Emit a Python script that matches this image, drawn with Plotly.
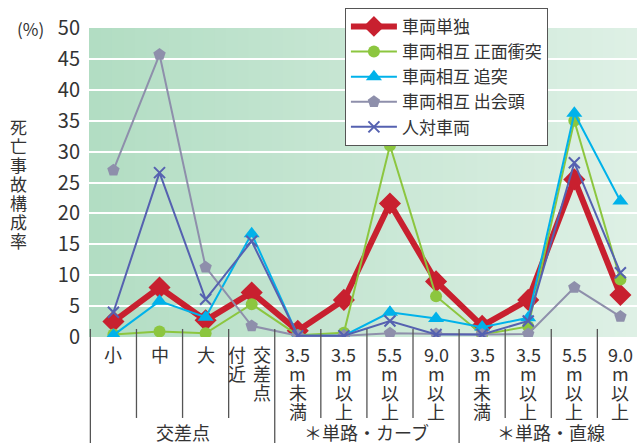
import plotly.graph_objects as go

categories = ["小", "中", "大", "交差点付近", "3.5m未満(曲)", "3.5m以上(曲)", "5.5m以上(曲)", "9.0m以上(曲)",
              "3.5m未満(直)", "3.5m以上(直)", "5.5m以上(直)", "9.0m以上(直)"]
tick_lines = [["小"], ["中"], ["大"], None,
              ["3.5", "m", "未", "満"], ["3.5", "m", "以", "上"], ["5.5", "m", "以", "上"], ["9.0", "m", "以", "上"],
              ["3.5", "m", "未", "満"], ["3.5", "m", "以", "上"], ["5.5", "m", "以", "上"], ["9.0", "m", "以", "上"]]
groups = [("交差点", 0, 3), ("＊単路・カーブ", 4, 7), ("＊単路・直線", 8, 11)]
y_title = "死亡事故構成率"

single = [2.5, 8.0, 2.7, 7.2, 1.0, 6.0, 21.6, 9.0, 1.8, 6.0, 25.5, 6.8]
head_on = [0.4, 0.9, 0.6, 5.3, 0.3, 0.7, 31.0, 6.6, 0.4, 1.7, 35.0, 9.3]
rear_end = [0.3, 5.8, 3.2, 16.7, 0.2, 0.2, 4.0, 3.0, 1.6, 3.1, 36.2, 22.0]
crossing = [27.0, 45.7, 11.3, 1.8, 0.2, 0.2, 0.6, 0.5, 0.4, 0.5, 8.0, 3.3]
pedestrian = [4.0, 26.6, 6.1, 15.5, 0.2, 0.2, 2.6, 0.4, 0.4, 2.6, 28.2, 10.4]

xs = list(range(len(categories)))
FONT = "Noto Sans CJK JP"
TXT = "#333333"

fig = go.Figure()
fig.add_trace(go.Scatter(x=xs, y=single, name="車両単独", mode="lines+markers",
                         line=dict(color="#c8202f", width=6),
                         marker=dict(symbol="diamond", size=17, color="#c8202f")))
fig.add_trace(go.Scatter(x=xs, y=head_on, name="車両相互 正面衝突", mode="lines+markers",
                         line=dict(color="#8cc63f", width=2),
                         marker=dict(symbol="circle", size=12, color="#8cc63f")))
fig.add_trace(go.Scatter(x=xs, y=rear_end, name="車両相互 追突", mode="lines+markers",
                         line=dict(color="#00b2ea", width=2),
                         marker=dict(symbol="triangle-up", size=14, color="#00b2ea")))
fig.add_trace(go.Scatter(x=xs, y=crossing, name="車両相互 出会頭", mode="lines+markers",
                         line=dict(color="#8e8fab", width=2),
                         marker=dict(symbol="pentagon", size=13, color="#8e8fab")))
fig.add_trace(go.Scatter(x=xs, y=pedestrian, name="人対車両", mode="lines+markers",
                         line=dict(color="#5561b0", width=2),
                         marker=dict(symbol="x-thin", size=11, color="#5561b0",
                                     line=dict(color="#5561b0", width=2))))

shapes = []
# gradient background
n = 48
c0 = (178, 221, 195)
c1 = (222, 240, 229)
for i in range(n):
    t = i / (n - 1)
    col = "rgb(%d,%d,%d)" % tuple(round(c0[k] + (c1[k] - c0[k]) * t) for k in range(3))
    shapes.append(dict(type="rect", xref="x domain", yref="y domain", x0=i / n, x1=(i + 1) / n + 0.002,
                       y0=0, y1=1, fillcolor=col, line=dict(width=0), layer="below"))
# category dividers
long_div = {-0.5, 3.5, 7.5}
for k in range(len(categories)):
    xd = k - 0.5
    shapes.append(dict(type="line", xref="x", yref="paper", x0=xd, x1=xd,
                       y0=0.026, y1=(-0.345 if xd in long_div else -0.262),
                       line=dict(color="#555555", width=1.3)))

annotations = []
line_h = 19
for k, lines in enumerate(tick_lines):
    if lines is None:
        cols = [(["交", "差", "点"], 10), (["付", "近"], -15)]
    else:
        cols = [(lines, 0)]
    for col_lines, xs_off in cols:
        for j, s in enumerate(col_lines):
            annotations.append(dict(x=k, y=0, xref="x", yref="paper", text=s, showarrow=False,
                                    xanchor="center", yanchor="middle", xshift=xs_off,
                                    yshift=-17 - j * line_h,
                                    font=dict(family=FONT, size=18, color=TXT)))
for name, a, b in groups:
    annotations.append(dict(x=(a + b) / 2, y=0, xref="x", yref="paper", text=name, showarrow=False,
                            xanchor="center", yanchor="middle", yshift=-95,
                            font=dict(family=FONT, size=18, color=TXT)))
annotations.append(dict(x=0, y=1, xref="paper", yref="paper", text="(%)", showarrow=False,
                        xanchor="center", yanchor="middle", xshift=-59, yshift=0,
                        font=dict(family=FONT, size=17, color=TXT)))
for j, ch in enumerate(y_title):
    annotations.append(dict(x=0, y=0, xref="paper", yref="paper", text=ch, showarrow=False,
                            xanchor="center", yanchor="middle", xshift=-71,
                            yshift=211 - j * 19,
                            font=dict(family=FONT, size=17, color=TXT)))

fig.update_layout(
    width=637, height=443,
    margin=dict(l=89, r=0, t=28, b=106),
    paper_bgcolor="white", plot_bgcolor="rgb(200,230,210)",
    font=dict(family=FONT, color=TXT),
    showlegend=True,
    legend=dict(x=0.467, y=1.065, xanchor="left", yanchor="top", bgcolor="white",
                bordercolor="#555555", borderwidth=1, font=dict(family=FONT, size=17, color=TXT),
                itemwidth=46, tracegroupgap=0),
    xaxis=dict(range=[-0.53, 11.36], showticklabels=False, showgrid=False, zeroline=False,
               showline=False, ticks=""),
    yaxis=dict(range=[0, 50], dtick=5, showgrid=True, gridcolor="white", gridwidth=2,
               zeroline=False, showline=False, ticks="", ticklabelstandoff=8,
               tickfont=dict(family=FONT, size=20, color=TXT)),
    shapes=shapes,
    annotations=annotations,
)

fig.write_html("out.html")
